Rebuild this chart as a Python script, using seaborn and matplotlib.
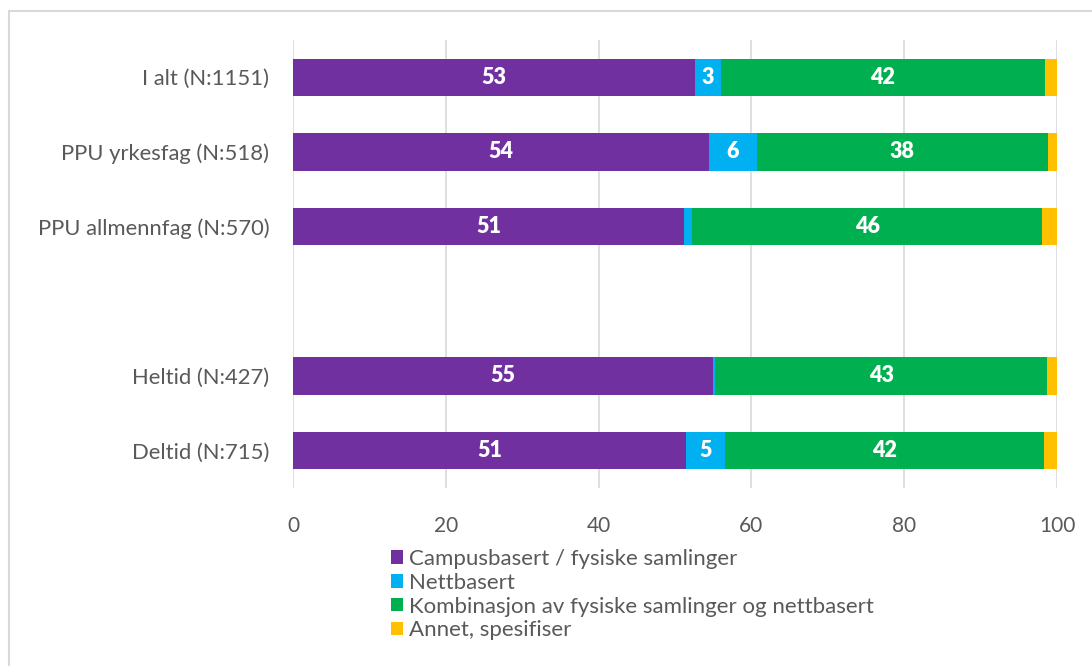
import matplotlib
matplotlib.use("Agg")
import matplotlib.pyplot as plt
from matplotlib.patches import Patch
from matplotlib.lines import Line2D
import seaborn as sns
import pandas as pd

# ---- data ----
categories = ["I alt (N:1151)", "PPU yrkesfag (N:518)", "PPU allmennfag (N:570)",
              "Heltid (N:427)", "Deltid (N:715)"]
campus = [52.6, 54.4, 51.2, 55.0, 51.4]
nett = [3.4, 6.3, 1.0, 0.3, 5.1]
kombinasjon = [42.4, 38.1, 45.9, 43.4, 41.8]
annet = [1.6, 1.2, 1.9, 1.3, 1.7]
series_names = ["Campusbasert / fysiske samlinger", "Nettbasert",
                "Kombinasjon av fysiske samlinger og nettbasert", "Annet, spesifiser"]
x_ticks = [0, 20, 40, 60, 80, 100]

colors = ["#7030A0", "#00B0F0", "#00B050", "#FFC000"]
text_color = "#595959"
grid_color = "#D9D9D9"

sns.set_theme(style="white")
plt.rcParams["font.family"] = ["Lato", "DejaVu Sans"]

order = categories[:3] + [" "] + categories[3:]
series = [campus, nett, kombinasjon, annet]
df = pd.DataFrame({"kategori": categories})
cum = [0.0] * len(categories)
lefts = []
for name, vals in zip(series_names, series):
    lefts.append(list(cum))
    cum = [c + v for c, v in zip(cum, vals)]
    df[name] = cum

fig = plt.figure(figsize=(10.92, 6.66), dpi=100)
ax = fig.add_axes([293 / 1092, 1 - 488 / 666, (1057 - 293) / 1092, 448 / 666])

# draw from the largest cumulative to the smallest so segments stack
for name, col in reversed(list(zip(series_names, colors))):
    sns.barplot(data=df, y="kategori", x=name, order=order, orient="h",
                color=col, width=0.5, linewidth=0, saturation=1, ax=ax)

# segment labels
for vals, left in zip(series, lefts):
    for cat, v, l in zip(categories, vals, left):
        if v >= 2.5:
            ax.text(l + v / 2, order.index(cat), f"{round(v):.0f}", ha="center", va="center",
                    color="white", fontsize=15.5, fontweight="heavy")

ax.set_xlim(0, 100)
ax.set_ylim(len(order) - 0.5, -0.5)
ax.set_xticks(x_ticks)
ax.set_xticklabels([str(t) for t in x_ticks])
ax.set_xlabel("")
ax.set_ylabel("")
ax.grid(axis="x", color=grid_color, linewidth=1.2)
ax.grid(axis="y", visible=False)
ax.set_axisbelow(True)
for s in ax.spines.values():
    s.set_visible(False)
ax.tick_params(axis="x", length=0, pad=20, labelsize=15, labelcolor=text_color)
ax.tick_params(axis="y", length=0, pad=17, labelsize=15.8, labelcolor=text_color)

handles = [Patch(facecolor=c, edgecolor="none") for c in colors]
fig.legend(handles, series_names, loc="upper left",
           bbox_to_anchor=(391 / 1092, 1 - 549 / 666), frameon=False,
           fontsize=16, labelcolor=text_color, handlelength=0.55, handleheight=0.55,
           handletextpad=0.25, labelspacing=0.17, borderpad=0, borderaxespad=0)

# chart border (top and left visible)
fig.add_artist(Line2D([8.5 / 1092, 8.5 / 1092], [0, 1 - 10.5 / 666], color=grid_color,
                      linewidth=1.5, transform=fig.transFigure))
fig.add_artist(Line2D([8.5 / 1092, 1], [1 - 10.5 / 666, 1 - 10.5 / 666], color=grid_color,
                      linewidth=1.5, transform=fig.transFigure))

fig.savefig("out.png", dpi=100, facecolor="white")
